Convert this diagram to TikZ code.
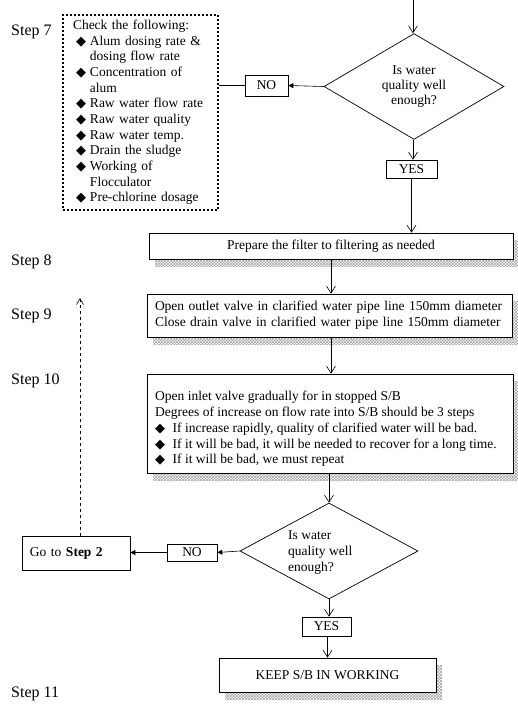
\documentclass[tikz,border=0pt]{standalone}
\usepackage{fontspec}
\setmainfont{Liberation Serif}
\newfontfamily\symf{DejaVu Sans}
\usetikzlibrary{shapes.geometric,arrows.meta,patterns,shadows}

% bullet glyph and list helpers
\newcommand{\dia}{{\symf\fontsize{13}{13}\selectfont ◆}}
\newcommand{\chkbul}{\hspace*{3pt}\makebox[14pt][l]{\dia}}
\newcommand{\chkind}{\hspace*{17pt}}
\newcommand{\stepbul}{\makebox[17.5pt][l]{\dia}}

\begin{document}
\begin{tikzpicture}[x=1pt,y=-1pt,
  every node/.style={font=\fontsize{13.5}{15}\selectfont, inner sep=0pt},
  box/.style={draw, fill=white, line width=0.7pt},
  shadowbox/.style={box, drop shadow={shadow xshift=6pt, shadow yshift=-7pt,
      opacity=1, pattern=crosshatch, pattern color=gray!75}},
  decision/.style={diamond, draw, line width=0.7pt, inner sep=0pt},
  steplabel/.style={anchor=west, font=\fontsize{16}{16}\selectfont},
  flow/.style={line width=0.6pt, -{Straight Barb[length=7pt,width=9pt]}},
  side/.style={line width=0.6pt, -{Triangle[length=5pt,width=5pt]}}
]
\useasboundingbox (0,0) rectangle (518,705);

% step labels
\node[steplabel] (l7)  at (11,32)  {Step 7};
\node[steplabel] (l8)  at (11,262) {Step 8};
\node[steplabel] (l9)  at (11,316) {Step 9};
\node[steplabel] (l10) at (11,381) {Step 10};
\node[steplabel] (l11) at (11,694) {Step 11};

% step 7: checklist and first quality check
\node[draw, line width=2pt, dash pattern=on 2pt off 2pt,
      minimum width=155, minimum height=195, text width=135, inner xsep=10pt,
      align=left, font=\fontsize{13.5}{15.67}\selectfont] (check) at (140.5,112.5)
  {Check the following:\\
   \chkbul Alum dosing rate \&\\
   \chkind dosing flow rate\\
   \chkbul Concentration of\\
   \chkind alum\\
   \chkbul Raw water flow rate\\
   \chkbul Raw water quality\\
   \chkbul Raw water temp.\\
   \chkbul Drain the sludge\\
   \chkbul Working of\\
   \chkind Flocculator\\
   \chkbul Pre-chlorine dosage};

\coordinate (in) at (413,0);
\node[decision, minimum width=180, minimum height=93, align=center] (q1) at (414,86.5)
  {Is water\\quality well\\enough?};
\node[box, minimum width=43, minimum height=21] (no1) at (266.5,85.5) {NO};
\node[box, minimum width=51, minimum height=18] (yes1) at (411.5,169) {YES};

% steps 8 to 10
\node[shadowbox, minimum width=364, minimum height=26] (prep) at (331,246)
  {Prepare the filter to filtering as needed};
\node[shadowbox, minimum width=365, minimum height=43, text width=349, inner xsep=8pt,
      align=left, font=\fontsize{13.5}{16}\selectfont] (valves) at (329.5,315.5)
  {Open outlet valve in clarified water pipe line 150mm diameter\\
   Close drain valve in clarified water pipe line 150mm diameter};
\node[shadowbox, minimum width=366, minimum height=99] (inlet) at (330,423.5) {};
\node[anchor=north west, align=left, font=\fontsize{13.5}{15.8}\selectfont] (inlettxt) at (155,391)
  {Open inlet valve gradually for in stopped S/B\\
   Degrees of increase on flow rate into S/B should be 3 steps\\
   \stepbul If increase rapidly, quality of clarified water will be bad.\\
   \stepbul If it will be bad, it will be needed to recover for a long time.\\
   \stepbul If it will be bad, we must repeat};

% second quality check and step 11
\node[decision, minimum width=178, minimum height=96] (q2) at (329,551) {};
\node[anchor=west, align=left, font=\fontsize{13.5}{16}\selectfont] (q2txt) at (288,553)
  {Is water\\quality well\\enough?};
\node[box, minimum width=50, minimum height=17] (no2) at (192,552.5) {NO};
\node[box, minimum width=108, minimum height=34, text width=92, inner xsep=8pt,
      align=left] (goto) at (76,553) {Go to \textbf{Step 2}};
\coordinate (back) at (80,298);
\node[box, minimum width=49, minimum height=19] (yes2) at (326.5,626.5) {YES};
\node[shadowbox, minimum width=217, minimum height=34] (keep) at (327.5,675)
  {KEEP S/B IN WORKING};

% connectors
\draw[flow] (in) -- (in |- q1.north);
\draw[side] (q1.west) -- (no1.east);
\draw[line width=0.6pt] (no1.west) -- (check.east |- no1.west);
\draw[flow] (q1.south -| in) -- (in |- yes1.north);
\draw[flow] (yes1.south) -- (yes1.south |- prep.north);
\draw[flow] (prep.south) -- (prep.south |- valves.north);
\draw[flow] (valves.south -| prep.south) -- (prep.south |- inlet.north);
\draw[flow] (inlet.south -| q2.north) -- (q2.north);
\draw[side] (q2.west) -- (no2.east);
\draw[side] (no2.west) -- (goto.east |- no2.west);
\draw[line width=0.6pt, dashed, -{Straight Barb[length=6pt,width=7pt]}] (goto.north -| back) -- (back);
\draw[flow] (q2.south) -- (q2.south |- yes2.north);
\draw[flow] (yes2.south -| keep.north) -- (keep.north);
\end{tikzpicture}
\end{document}
